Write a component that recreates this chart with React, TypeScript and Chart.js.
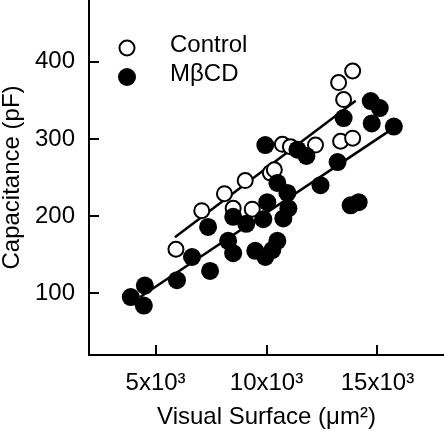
import React, { useEffect, useRef } from 'react';
import { Chart, registerables } from 'chart.js';

Chart.register(...registerables);

// ---- Data ----
const seriesLabels = ['Control', 'MβCD'];

const controlX = [5919, 7082, 8104, 9041, 10172, 10353, 8498, 9358, 10715, 11077, 12208, 13340, 13883, 13250, 13883, 13476];
const controlY = [157, 207, 229, 246, 256, 260, 210, 209, 293, 290, 292, 297, 301, 373, 388, 351];

const mbcdX = [3882, 4516, 4471, 5964, 6643, 7457, 7367, 8498, 9086, 9855, 10036, 10489, 10941, 10986, 10760, 8272, 8498, 9493, 9946, 10489, 10262, 9946, 11394, 11801, 13476, 14698, 15105, 14743, 15739, 13204, 12434, 13792, 14154];
const mbcdY = [95, 110, 84, 117, 147, 129, 186, 199, 190, 196, 218, 243, 230, 210, 197, 168, 152, 155, 147, 168, 156, 292, 286, 278, 327, 349, 340, 320, 316, 270, 240, 214, 218];

// regression line endpoints
const controlFitX = [5870, 14020];
const controlFitY = [172.7, 349.4];
const mbcdFitX = [4290, 15535];
const mbcdFitY = [94.8, 310.4];

const xTicks = [5000, 10000, 15000];
const xTickLabels = ['5x10³', '10x10³', '15x10³'];
const yTicks = [100, 200, 300, 400];

const xTitle = 'Visual Surface (μm²)';
const yTitle = 'Capacitance (pF)';

const FONT = '"Liberation Sans", Arial, Helvetica, sans-serif';

const toPoints = (xs: number[], ys: number[]) => xs.map((x, i) => ({ x, y: ys[i] }));

const inwardTicks = {
  id: 'inwardTicks',
  afterDraw(chart: any) {
    const { ctx, chartArea, scales } = chart;
    ctx.save();
    ctx.strokeStyle = '#000';
    ctx.lineWidth = 2;
    ctx.beginPath();
    scales.x.ticks.forEach((t: any) => {
      const px = Math.round(scales.x.getPixelForValue(t.value));
      ctx.moveTo(px, chartArea.bottom);
      ctx.lineTo(px, chartArea.bottom - 10);
    });
    scales.y.ticks.forEach((t: any) => {
      const py = Math.round(scales.y.getPixelForValue(t.value));
      ctx.moveTo(chartArea.left, py);
      ctx.lineTo(chartArea.left + 10, py);
    });
    ctx.stroke();
    ctx.restore();
  },
};

const customLegend = {
  id: 'customLegend',
  afterDraw(chart: any) {
    const { ctx, chartArea } = chart;
    const items = chart.data.datasets.filter((d: any) => d.inLegend);
    ctx.save();
    items.forEach((d: any, i: number) => {
      const cx = chartArea.left + 38;
      const cy = chartArea.top + 48 + i * 29;
      ctx.beginPath();
      ctx.arc(cx, cy, d.pointRadius, 0, Math.PI * 2);
      ctx.fillStyle = d.pointBackgroundColor;
      ctx.fill();
      if (d.pointBorderWidth > 0) {
        ctx.lineWidth = d.pointBorderWidth;
        ctx.strokeStyle = d.pointBorderColor;
        ctx.stroke();
      }
      ctx.fillStyle = '#000';
      ctx.font = `24px ${FONT}`;
      ctx.textBaseline = 'middle';
      ctx.textAlign = 'left';
      ctx.fillText(d.label, chartArea.left + 81, cy - 3);
    });
    ctx.restore();
  },
};

export default function App() {
  const ref = useRef<HTMLCanvasElement>(null);

  useEffect(() => {
    document.body.style.margin = '0';
    const canvas = ref.current!;
    const chart = new Chart(canvas, {
      type: 'scatter',
      data: {
        datasets: [
          {
            type: 'line',
            label: 'control fit',
            data: toPoints(controlFitX, controlFitY),
            borderColor: '#000',
            borderWidth: 2.5,
            pointRadius: 0,
            fill: false,
            order: 3,
          } as any,
          {
            type: 'line',
            label: 'mbcd fit',
            data: toPoints(mbcdFitX, mbcdFitY),
            borderColor: '#000',
            borderWidth: 2.5,
            pointRadius: 0,
            fill: false,
            order: 3,
          } as any,
          {
            label: seriesLabels[0],
            inLegend: true,
            data: toPoints(controlX, controlY),
            pointRadius: 7.5,
            pointBackgroundColor: '#fff',
            pointBorderColor: '#000',
            pointBorderWidth: 2,
            order: 2,
          } as any,
          {
            label: seriesLabels[1],
            inLegend: true,
            data: toPoints(mbcdX, mbcdY),
            pointRadius: 9,
            pointBackgroundColor: '#000',
            pointBorderColor: '#000',
            pointBorderWidth: 0,
            order: 1,
          } as any,
        ],
      },
      options: {
        animation: false,
        responsive: false,
        layout: { padding: 0, autoPadding: false },
        plugins: {
          legend: { display: false },
          tooltip: { enabled: false },
        },
        scales: {
          x: {
            type: 'linear',
            min: 2000,
            max: 18000,
            afterBuildTicks: (s: any) => {
              s.ticks = xTicks.map((v) => ({ value: v }));
            },
            afterFit: (s: any) => {
              s.height = 75;
              s.paddingLeft = 0;
              s.paddingRight = 0;
            },
            ticks: {
              color: '#000',
              font: { size: 24, family: FONT },
              padding: 14,
              maxRotation: 0,
              callback: (v: any) => {
                const i = xTicks.indexOf(Number(v));
                return i >= 0 ? xTickLabels[i] : '';
              },
            },
            grid: { display: false, drawTicks: false },
            border: { display: true, color: '#000', width: 2 },
            title: {
              display: true,
              text: xTitle,
              color: '#000',
              font: { size: 24, family: FONT, lineHeight: 1 },
              padding: { top: 0, bottom: 1 },
            },
          },
          y: {
            type: 'linear',
            min: 20,
            max: 480,
            afterBuildTicks: (s: any) => {
              s.ticks = yTicks.map((v) => ({ value: v }));
            },
            afterFit: (s: any) => {
              s.width = 89;
              s.paddingTop = 0;
              s.paddingBottom = 0;
            },
            ticks: {
              color: '#000',
              font: { size: 24, family: FONT },
              padding: 14,
            },
            grid: { display: false, drawTicks: false },
            border: { display: true, color: '#000', width: 2 },
            title: {
              display: true,
              text: yTitle,
              color: '#000',
              font: { size: 24, family: FONT, lineHeight: 1 },
              padding: 0,
            },
          },
        },
      },
      plugins: [inwardTicks, customLegend],
    });
    return () => chart.destroy();
  }, []);

  return (
    <div style={{ position: 'absolute', left: 0, top: 0, width: 444, height: 430, background: '#fff' }}>
      <canvas ref={ref} width={444} height={430} />
    </div>
  );
}
